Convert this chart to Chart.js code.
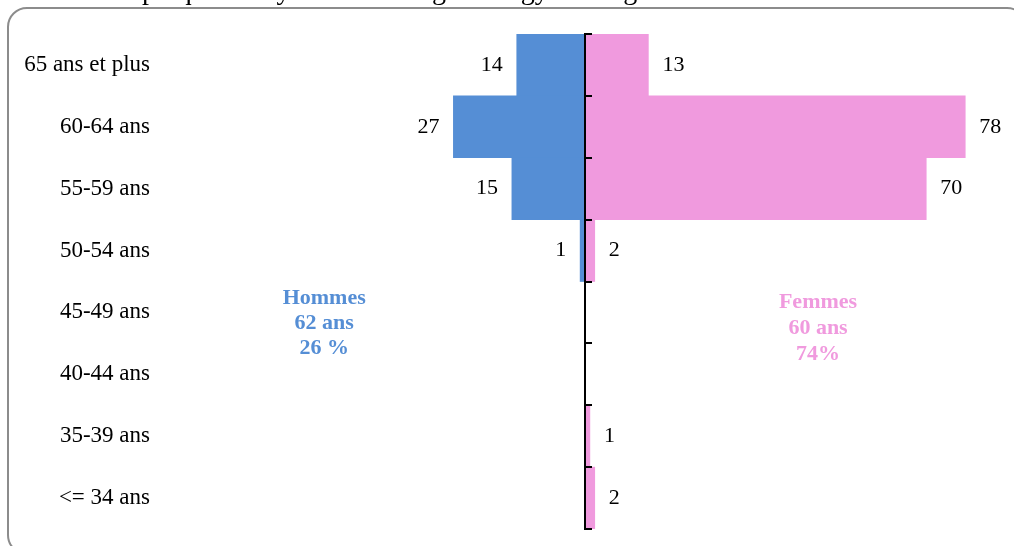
<!DOCTYPE html>
<html lang="fr">
<head>
<meta charset="utf-8">
<title>Pyramide des âges</title>
<script src="https://cdn.jsdelivr.net/npm/chart.js@4.4.1/dist/chart.umd.min.js"></script>
<style>
  html, body { margin: 0; padding: 0; background: #fff; overflow: hidden; }
  #wrap { position: relative; width: 1014px; height: 546px; overflow: hidden; }
  #frame {
    position: absolute; left: 7px; top: 7px; width: 1020px; height: 548px;
    border: 2px solid #8c8c8c; border-radius: 20px; box-sizing: border-box;
  }
  canvas { position: absolute; left: 0; top: 0; }
</style>
</head>
<body>
<div id="wrap">
  <div id="frame"></div>
  <canvas id="c" width="1014" height="546"></canvas>
</div>
<script>
// Titre du graphique
const chartTitle = 'Graphique 1 : Pyramide des âges des gynécologues médicaux';
// Tranches d'âge, du plus âgé au plus jeune
const ageGroups = ['65 ans et plus', '60-64 ans', '55-59 ans', '50-54 ans',
                   '45-49 ans', '40-44 ans', '35-39 ans', '<= 34 ans'];
// Effectifs par tranche
const hommes = [14, 27, 15, 1, 0, 0, 0, 0];
const femmes = [13, 78, 70, 2, 0, 0, 1, 2];
// Encadrés de synthèse
const hommesInfo = ['Hommes', '62 ans', '26 %'];
const femmesInfo = ['Femmes', '60 ans', '74%'];

const BLUE = '#558ED5';
const PINK = '#F09ADE';
const SERIF = '"Palatino Linotype", "Book Antiqua", Palatino, "Liberation Serif", serif';

// Titre placé au-dessus du cadre
const headTitle = {
  id: 'headTitle',
  afterDraw(chart) {
    const ctx = chart.ctx;
    ctx.save();
    ctx.font = '28px ' + SERIF;
    ctx.fillStyle = '#000';
    ctx.textAlign = 'left';
    ctx.textBaseline = 'alphabetic';
    ctx.fillText(chartTitle, 100, -1);
    ctx.restore();
  }
};

// Valeurs écrites au bout de chaque barre non nulle
const valueLabels = {
  id: 'valueLabels',
  afterDatasetsDraw(chart) {
    const ctx = chart.ctx;
    ctx.save();
    ctx.font = '22px ' + SERIF;
    ctx.fillStyle = '#000';
    ctx.textBaseline = 'middle';
    chart.data.datasets.forEach((ds, di) => {
      const meta = chart.getDatasetMeta(di);
      const raw = di === 0 ? hommes : femmes;
      meta.data.forEach((bar, i) => {
        if (!raw[i]) return;
        if (di === 0) {
          ctx.textAlign = 'right';
          ctx.fillText(String(raw[i]), bar.x - 14, bar.y);
        } else {
          ctx.textAlign = 'left';
          ctx.fillText(String(raw[i]), bar.x + 14, bar.y);
        }
      });
    });
    ctx.restore();
  }
};

// Blocs de texte Hommes / Femmes
const sideNotes = {
  id: 'sideNotes',
  afterDraw(chart) {
    const ctx = chart.ctx;
    const xs = chart.scales.x;
    ctx.save();
    ctx.font = 'bold 22px ' + SERIF;
    ctx.textAlign = 'center';
    ctx.textBaseline = 'middle';
    ctx.fillStyle = BLUE;
    hommesInfo.forEach((t, k) => ctx.fillText(t, xs.getPixelForValue(-53.5), 298 + k * 25));
    ctx.fillStyle = PINK;
    femmesInfo.forEach((t, k) => ctx.fillText(t, xs.getPixelForValue(47.8), 302 + k * 26));
    ctx.restore();
  }
};

new Chart(document.getElementById('c'), {
  type: 'bar',
  data: {
    labels: ageGroups,
    datasets: [
      { label: 'Hommes', data: hommes.map(v => -v), backgroundColor: BLUE,
        barPercentage: 1, categoryPercentage: 1, borderWidth: 0 },
      { label: 'Femmes', data: femmes, backgroundColor: PINK,
        barPercentage: 1, categoryPercentage: 1, borderWidth: 0 }
    ]
  },
  options: {
    indexAxis: 'y',
    responsive: false,
    animation: false,
    layout: { padding: { top: 34, bottom: 17, left: 0, right: 39 } },
    plugins: { legend: { display: false }, tooltip: { enabled: false } },
    scales: {
      x: { type: 'linear', min: -80, max: 80, stacked: true, display: false },
      y: {
        type: 'category', stacked: true, position: 'left',
        grid: { display: false, drawTicks: false }, border: { display: false },
        ticks: { color: '#000', padding: 45, font: { family: SERIF, size: 23 } },
        afterFit(scale) {
          scale.width = 195;
          scale.paddingTop = 0;
          scale.paddingBottom = 0;
        }
      },
      axe: {
        type: 'category', axis: 'y', labels: ageGroups, position: { x: 0 },
        offset: true,
        grid: { display: true, offset: true, drawOnChartArea: false, drawTicks: true,
                tickLength: -8, color: '#000', lineWidth: 2, z: 1 },
        border: { display: true, color: '#000', width: 2, z: 1 },
        ticks: { display: false }
      }
    }
  },
  plugins: [valueLabels, sideNotes, headTitle]
});
</script>
</body>
</html>
